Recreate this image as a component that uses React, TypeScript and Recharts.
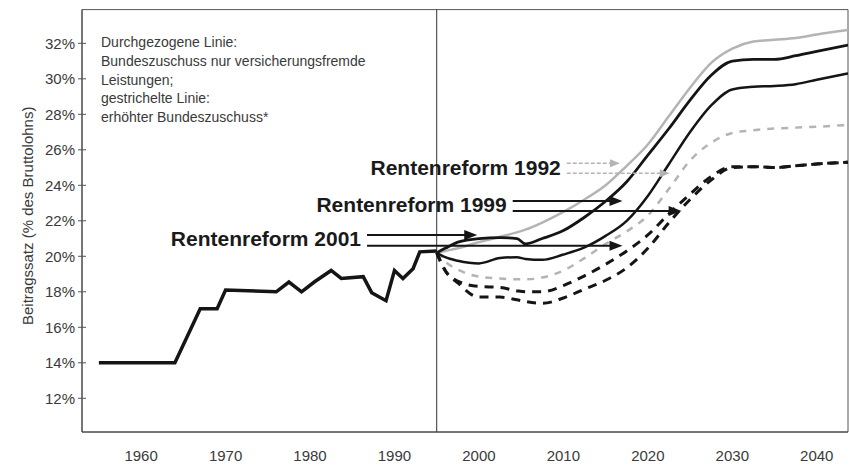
import { LineChart, Line, XAxis, YAxis, ReferenceLine, ReferenceArea } from "recharts";

const FONT = '"Liberation Sans", Arial, Helvetica, sans-serif';

// Historische Beitragssätze
const histYears = [1955, 1964, 1967, 1969, 1970, 1976, 1977.5, 1979, 1980.5, 1982.5, 1983.7, 1986.3, 1987.3, 1989, 1990, 1991, 1992.2, 1993, 1995];
const histRate = [14, 14, 17.05, 17.05, 18.1, 18.0, 18.55, 18.0, 18.55, 19.2, 18.75, 18.85, 17.95, 17.5, 19.2, 18.75, 19.3, 20.25, 20.3];

// Projektionen
const projYears = [1995, 1996, 1997.5, 2000, 2002.5, 2004.5, 2005.5, 2007.5, 2010, 2012.5, 2015, 2017.5, 2020, 2022.5, 2025, 2027.5, 2030, 2032.5, 2035, 2037.5, 2040, 2043.7];
const solid1992 = [20.2, 20.3, 20.45, 20.8, 21.1, 21.35, 21.5, 21.9, 22.5, 23.2, 24.0, 25.1, 26.3, 27.9, 29.5, 30.9, 31.7, 32.1, 32.2, 32.3, 32.5, 32.75];
const solid1999 = [20.2, 20.45, 20.8, 21.0, 21.05, 21.0, 20.7, 21.0, 21.45, 22.2, 23.1, 24.2, 25.7, 27.2, 28.8, 30.2, 31.0, 31.1, 31.1, 31.3, 31.55, 31.9];
const solid2001 = [20.2, 19.95, 19.75, 19.6, 19.9, 19.95, 19.85, 19.8, 20.1, 20.5, 21.15, 22.0, 23.4, 25.2, 27.0, 28.5, 29.4, 29.55, 29.6, 29.7, 29.95, 30.3];
const dashed1992 = [20.2, 19.7, 19.25, 18.85, 18.75, 18.7, 18.7, 18.8, 19.2, 19.9, 20.7, 21.4, 22.3, 23.8, 25.4, 26.4, 26.95, 27.1, 27.2, 27.25, 27.3, 27.4];
const dashed1999 = [20.2, 19.2, 18.6, 18.3, 18.25, 18.05, 18.0, 18.0, 18.35, 18.9, 19.55, 20.3, 21.2, 22.4, 23.5, 24.5, 25.05, 25.05, 25.0, 25.1, 25.2, 25.3];
const dashed2001 = [20.2, 19.2, 18.5, 17.7, 17.7, 17.55, 17.45, 17.35, 17.65, 18.15, 18.65, 19.35, 20.45, 21.9, 23.2, 24.3, 25.0, 25.05, 25.0, 25.1, 25.2, 25.3];

const xTicks = [1960, 1970, 1980, 1990, 2000, 2010, 2020, 2030, 2040];
const yTicks = [12, 14, 16, 18, 20, 22, 24, 26, 28, 30, 32];
const X_DOMAIN: [number, number] = [1953, 2043.7];
const Y_DOMAIN: [number, number] = [10.1, 33.9];

const noteLines = [
  "Durchgezogene Linie:",
  "Bundeszuschuss nur versicherungsfremde",
  "Leistungen;",
  "gestrichelte Linie:",
  "erhöhter Bundeszuschuss*",
];

// Pfeile der Beschriftungen (Datenkoordinaten)
const arrows = [
  { label: "Rentenreform 1992", from: 2010.4, to: 2016.7, y: 25.24, grey: true },
  { label: "", from: 2010.4, to: 2022.6, y: 24.68, grey: true },
  { label: "Rentenreform 1999", from: 2004.0, to: 2017.0, y: 23.12, grey: false },
  { label: "", from: 2004.0, to: 2024.0, y: 22.55, grey: false },
  { label: "Rentenreform 2001", from: 1986.75, to: 1999.8, y: 21.2, grey: false },
  { label: "", from: 1986.75, to: 2017.0, y: 20.6, grey: false },
];

const toPoints = (xs: number[], vs: number[]) => xs.map((x, i) => ({ year: x, v: vs[i] }));

const BLACK = "#151515";
const GREY = "#b4b4b4";

function YTick(props: any) {
  const { x, y, payload } = props;
  return (
    <g>
      <line x1={x + 3} x2={x + 11} y1={y} y2={y} stroke="#555" strokeWidth={1} />
      <text x={x} y={y} textAnchor="end" dominantBaseline="central" fontSize={15} fill="#3a3a3a" fontFamily={FONT}>
        {payload.value}%
      </text>
    </g>
  );
}

function makeArrow(label: string, grey: boolean) {
  return (props: any) => {
    const { x1, y1, x2, y2 } = props;
    const color = grey ? GREY : BLACK;
    const head = grey ? 10 : 13;
    const hw = grey ? 4 : 5;
    return (
      <g>
        <line
          x1={x1}
          y1={y1}
          x2={x2 - head + 1}
          y2={y2}
          stroke={color}
          strokeWidth={grey ? 1.5 : 2}
          strokeDasharray={grey ? "4 2" : undefined}
        />
        <polygon points={`${x2},${y2} ${x2 - head},${y2 - hw} ${x2 - head},${y2 + hw}`} fill={color} />
        {label ? (
          <text
            x={x1 - 6}
            y={y1 + 4}
            textAnchor="end"
            dominantBaseline="central"
            fontSize={21}
            fontWeight="bold"
            fill="#1a1a1a"
            fontFamily={FONT}
          >
            {label}
          </text>
        ) : null}
      </g>
    );
  };
}

export default function App() {
  return (
    <div style={{ position: "absolute", left: 0, top: 0, width: 850, height: 467, background: "#fff" }}>
      <LineChart width={850} height={467} margin={{ top: 9.6, right: 2, bottom: 0, left: 0 }}>
        <XAxis
          type="number"
          dataKey="year"
          domain={X_DOMAIN}
          allowDataOverflow
          ticks={xTicks}
          height={35}
          tickLine={false}
          tickSize={0}
          tickMargin={18}
          axisLine={{ stroke: "#444" }}
          tick={{ fontSize: 15, fill: "#3a3a3a", fontFamily: FONT }}
        />
        <YAxis
          type="number"
          domain={Y_DOMAIN}
          allowDataOverflow
          ticks={yTicks}
          width={82}
          tickLine={false}
          tickSize={3}
          tickMargin={4}
          axisLine={{ stroke: "#444" }}
          tick={<YTick />}
          label={{
            content: (p: any) => {
              const vb = p.viewBox || { x: 0, y: 9.6, width: 82, height: 422 };
              const cx = 28;
              const cy = vb.y + vb.height / 2 - 5;
              return (
                <text
                  x={cx}
                  y={cy}
                  transform={`rotate(-90 ${cx} ${cy})`}
                  textAnchor="middle"
                  dominantBaseline="central"
                  fontSize={15}
                  fill="#3a3a3a"
                  fontFamily={FONT}
                >
                  Beitragssatz (% des Bruttolohns)
                </text>
              );
            },
          }}
        />
        <ReferenceArea
          x1={X_DOMAIN[0]}
          x2={X_DOMAIN[1]}
          y1={Y_DOMAIN[0]}
          y2={Y_DOMAIN[1]}
          fill="none"
          stroke="#555"
          strokeWidth={1}
          ifOverflow="visible"
        />
        <ReferenceLine x={1995} stroke="#333" strokeWidth={1} />

        <Line data={toPoints(projYears, solid1992)} dataKey="v" type="monotone" stroke={GREY} strokeWidth={2.5} dot={false} isAnimationActive={false} />
        <Line data={toPoints(projYears, dashed1992)} dataKey="v" type="monotone" stroke={GREY} strokeWidth={2.5} strokeDasharray="7 7" dot={false} isAnimationActive={false} />
        <Line data={toPoints(projYears, dashed2001)} dataKey="v" type="monotone" stroke={BLACK} strokeWidth={3} strokeDasharray="9 7" dot={false} isAnimationActive={false} />
        <Line data={toPoints(projYears, dashed1999)} dataKey="v" type="monotone" stroke={BLACK} strokeWidth={3} strokeDasharray="9 7" dot={false} isAnimationActive={false} />
        <Line data={toPoints(projYears, solid2001)} dataKey="v" type="monotone" stroke={BLACK} strokeWidth={2.5} dot={false} isAnimationActive={false} />
        <Line data={toPoints(projYears, solid1999)} dataKey="v" type="monotone" stroke={BLACK} strokeWidth={2.8} dot={false} isAnimationActive={false} />
        <Line data={toPoints(histYears, histRate)} dataKey="v" type="linear" stroke={BLACK} strokeWidth={3.5} strokeLinejoin="miter" dot={false} isAnimationActive={false} />

        {arrows.map((a, i) => (
          <ReferenceLine
            key={i}
            segment={[
              { x: a.from, y: a.y },
              { x: a.to, y: a.y },
            ]}
            ifOverflow="visible"
            shape={makeArrow(a.label, a.grey)}
          />
        ))}
      </LineChart>
      <div
        style={{
          position: "absolute",
          left: 101,
          top: 33,
          fontFamily: FONT,
          fontSize: 14,
          lineHeight: "18.8px",
          color: "#3a3a3a",
          whiteSpace: "nowrap",
        }}
      >
        {noteLines.map((t, i) => (
          <div key={i}>{t}</div>
        ))}
      </div>
    </div>
  );
}
